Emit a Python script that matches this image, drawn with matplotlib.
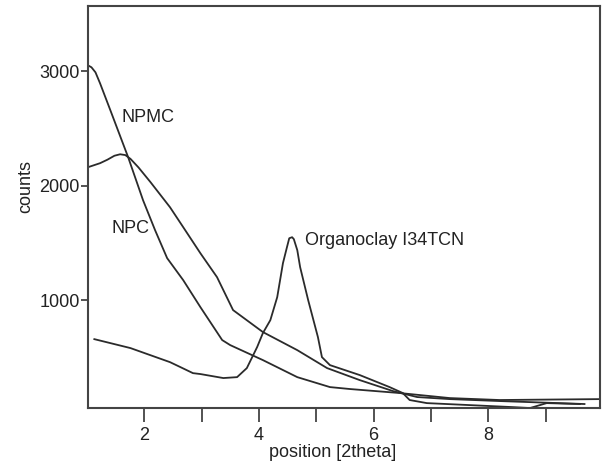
import matplotlib
matplotlib.use("Agg")
import matplotlib.pyplot as plt

plt.rcParams['font.family'] = ['Liberation Sans', 'DejaVu Sans']

# NPMC (steep curve starting near 3000)
npmc_x = [1.02, 1.08, 1.15, 1.23, 1.41, 1.72, 1.98, 2.19, 2.40, 2.68, 2.98, 3.36, 3.50,
          4.07, 4.67, 5.24, 5.59, 6.46, 7.33, 8.20, 9.95]
npmc_y = [3052, 3035, 2991, 2895, 2659, 2249, 1873, 1611, 1367, 1175, 939, 651, 607,
          476, 327, 240, 223, 188, 144, 127, 135]

# NPC (curve starting near 2150 with a broad hump)
npc_x = [1.02, 1.23, 1.36, 1.48, 1.58, 1.67, 1.76, 1.90, 2.11, 2.45, 2.68, 2.98, 3.27, 3.55,
         4.07, 4.67, 5.19, 5.76, 6.34, 6.76, 7.33, 8.20, 9.68]
npc_y = [2162, 2197, 2228, 2262, 2275, 2268, 2235, 2160, 2031, 1812, 1638, 1410, 1201, 913,
         721, 563, 406, 301, 205, 153, 135, 118, 92]

# Organoclay I34TCN (peak near 4.6)
org_x = [1.13, 1.76, 2.45, 2.63, 2.85, 2.98, 3.38, 3.62, 3.79, 3.97, 4.07, 4.20,
         4.32, 4.42, 4.49, 4.53, 4.58, 4.61, 4.67, 4.72, 4.86, 5.03, 5.10, 5.24,
         5.76, 6.28, 6.51, 6.63, 6.93, 8.43, 8.73, 9.02, 9.60]
org_y = [659, 581, 458, 415, 362, 354, 319, 327, 406, 590, 712, 825,
         1026, 1323, 1463, 1541, 1550, 1533, 1437, 1288, 1000, 677, 502, 432,
         345, 240, 188, 127, 100, 65, 57, 100, 92]

x_ticks = [2, 3, 4, 5, 6, 7, 8, 9]
x_labels = ['2', '', '4', '', '6', '', '8', '']
y_ticks = [1000, 2000, 3000]

fig = plt.figure(figsize=(6.05, 4.69), dpi=100)
ax = fig.add_axes([0.1455, 0.130, 0.8462, 0.857])

lc = '#2b2b2b'
ax.plot(npmc_x, npmc_y, color=lc, lw=1.3)
ax.plot(npc_x, npc_y, color=lc, lw=1.3)
ax.plot(org_x, org_y, color=lc, lw=1.3)

ax.text(2.07, 2598, 'NPMC', fontsize=13, color='#222222', ha='center', va='center')
ax.text(1.76, 1629, 'NPC', fontsize=13, color='#222222', ha='center', va='center')
ax.text(4.80, 1524, 'Organoclay I34TCN', fontsize=13, color='#222222',
        ha='left', va='center')

ax.set_xlim(1.02, 9.95)
ax.set_ylim(57, 3570)
ax.set_xticks(x_ticks)
ax.set_xticklabels(x_labels)
ax.set_yticks(y_ticks)

for s in ax.spines.values():
    s.set_color('#444444')
    s.set_linewidth(1.5)

ax.tick_params(axis='x', length=10, width=1.3, color='#444444', labelsize=13,
               pad=4, labelcolor='#222222')
ax.tick_params(axis='y', length=5, width=1.3, color='#444444', labelsize=13,
               pad=1, labelcolor='#222222')

ax.set_xlabel('position [2theta]', fontsize=13, color='#222222', labelpad=0, x=0.477)
ax.set_ylabel('counts', fontsize=13, color='#222222', labelpad=4, y=0.55)

fig.savefig('out.png', dpi=100)
